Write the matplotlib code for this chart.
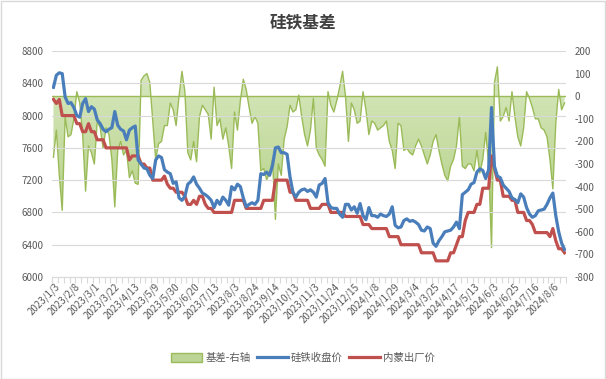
import numpy as np
import matplotlib
matplotlib.use('Agg')
import matplotlib.pyplot as plt
from matplotlib.colors import LinearSegmentedColormap
from matplotlib.patches import Patch, Rectangle
from matplotlib.lines import Line2D
from matplotlib.ticker import FixedLocator

plt.rcParams['font.family'] = ['Noto Sans CJK SC', 'DejaVu Sans']
plt.rcParams['axes.unicode_minus'] = False

# x tick labels (every ~7th point)
date_labels = ['2023/1/3', '2023/2/8', '2023/3/1', '2023/3/22', '2023/4/13', '2023/5/9',
               '2023/5/30', '2023/6/20', '2023/7/13', '2023/8/3', '2023/8/24', '2023/9/14',
               '2023/10/13', '2023/11/3', '2023/11/24', '2023/12/15', '2024/1/8', '2024/1/29',
               '2024/3/4', '2024/3/25', '2024/4/17', '2024/5/13', '2024/6/3', '2024/6/25',
               '2024/7/16', '2024/8/6']

# 基差 (right axis)
basis = [-270, -150, -350, -505, -90, -180, -170, -100, 20, -30,
         -170, -420, -220, -250, -300, -110, -140, -230, -140, -170,
         -280, -490, -240, -200, -260, -240, -360, -330, -385, -390,
         70, 90, 100, 60, -110, -280, -210, -200, -130, -130,
         -30, -60, -130, 0, 110, 20, -250, -282, -200, -290,
         -90, -40, -60, -80, -190, 40, -130, -100, -190, -140,
         -220, -320, -70, -150, -20, 75, 30, -50, -120, -90,
         -120, -330, -320, -370, -340, -280, -545, -300, -350, -190,
         -135, -40, -70, -60, 5, -90, -170, -220, -150, -10,
         -230, -260, -280, -310, 20, -40, -70, -20, 40, 110,
         0, -200, -30, -60, -120, -110, 20, -60, -170, -110,
         -120, -150, -140, -130, -110, -200, -240, -320, -120, -130,
         -240, -230, -250, -260, -220, -190, -220, -260, -300, -260,
         -200, -170, -240, -300, -350, -375, -310, -280, -220, -90,
         -310, -320, -300, -300, -330, -240, -340, -280, -160, -300,
         -670, 60, 130, -110, -90, -50, -110, 20, -90, -180,
         -220, -140, 20, -10, -50, -100, -100, -140, -150, -180,
         -280, -410, -120, 30, -60, -30]

# 硅铁收盘价
close_price = [8350, 8500, 8530, 8520, 8230, 8150, 8160, 8100, 8000, 7980,
               8150, 8210, 8050, 8110, 8080, 7945, 7900, 7830, 7800, 7830,
               7850, 8050, 7880, 7830, 7810, 7700, 7820, 7850, 7870, 7450,
               7400, 7350, 7340, 7260, 7220, 7450, 7500, 7480, 7330, 7300,
               7280, 7160, 7180, 6980, 6950, 7000, 7150, 7180, 7240, 7150,
               7100, 7040, 7020, 6990, 6950, 6860, 6950, 6900, 6990, 6950,
               6890, 7120, 7080, 7150, 7120, 6980, 6870, 6900, 6920, 6900,
               6950, 7280, 7270, 7300, 7260, 7380, 7600, 7610, 7540, 7540,
               7520, 7240, 7050, 6990, 7050, 7080, 7090, 7060, 7080, 7050,
               6990, 7140, 7160, 7220, 6920, 6860, 6850, 6850, 6780, 6740,
               6900, 6900, 6830, 6870, 6790, 6910, 6760, 6710, 6860, 6760,
               6760, 6740, 6780, 6760, 6750, 6780, 6870, 6640, 6610, 6620,
               6700, 6720, 6690, 6700, 6680, 6650, 6580, 6570, 6620, 6600,
               6420, 6380, 6450, 6500, 6560, 6570, 6580, 6620, 6680, 6600,
               7020, 7050, 7080, 7150, 7170, 7300, 7340, 7320, 7220, 7330,
               8100, 7370, 7250, 7230, 7140, 7100, 7060, 6980, 6960, 6920,
               7030, 6990, 6860, 6780, 6740, 6760, 6820, 6830, 6840, 6900,
               6980, 7040, 6760, 6560, 6420, 6340]

# 内蒙出厂价
factory_price = [8200, 8150, 8200, 8000, 8000, 8000, 8000, 8000, 7900, 7900,
                 7800, 7800, 7900, 7800, 7800, 7700, 7700, 7700, 7600, 7600,
                 7600, 7600, 7600, 7600, 7600, 7600, 7450, 7500, 7500, 7500,
                 7400, 7400, 7350, 7350, 7200, 7200, 7200, 7200, 7250, 7150,
                 7100, 7100, 7050, 7050, 7050, 7000, 6900, 6900, 6950, 6900,
                 7000, 7000, 6900, 6850, 6850, 6800, 6800, 6800, 6800, 6800,
                 6800, 6800, 6950, 6950, 6950, 6950, 6850, 6850, 6850, 6850,
                 6850, 6850, 6950, 6950, 6950, 6950, 7200, 7200, 7200, 7200,
                 7200, 7050, 7050, 6950, 6950, 6950, 6950, 6950, 6850, 6850,
                 6850, 6850, 6900, 6900, 6900, 6800, 6800, 6800, 6800, 6800,
                 6750, 6750, 6750, 6750, 6750, 6750, 6650, 6650, 6650, 6600,
                 6600, 6600, 6600, 6600, 6600, 6500, 6500, 6500, 6500, 6400,
                 6400, 6400, 6400, 6400, 6400, 6400, 6300, 6300, 6300, 6300,
                 6300, 6200, 6200, 6200, 6200, 6200, 6300, 6300, 6400, 6500,
                 6500, 6700, 6800, 6800, 6800, 6900, 6900, 7100, 7100, 7100,
                 7500, 7350, 7200, 7200, 7000, 7000, 7000, 6950, 6950, 6800,
                 6800, 6800, 6700, 6700, 6650, 6550, 6550, 6550, 6550, 6550,
                 6500, 6600, 6450, 6350, 6350, 6300]

x = np.arange(len(basis))
label_pos = np.arange(len(date_labels)) * 6.84 + 0.4

GREEN = '#9bbb59'
BLUE = '#4a7ebb'
RED = '#c0504d'
TXT = '#595959'
GRID = '#d9d9d9'

fig = plt.figure(figsize=(6.06, 3.79), dpi=100)
ax = fig.add_axes([52/606, 1-277/379, 514/606, 226/379])
ax2 = ax.twinx()
ax.set_zorder(2)
ax2.set_zorder(1)
ax.patch.set_visible(False)

# basis area with vertical gradient
poly = ax2.fill_between(x, basis, 0, facecolor='none', edgecolor='none')
cmap = LinearSegmentedColormap.from_list('g', ['#9dc265', '#c2da9c', '#dbeac5'])
grad = np.linspace(0, 1, 256).reshape(-1, 1)
im = ax2.imshow(grad, extent=[-0.5, len(x)-0.5, -800, 200], origin='lower',
                aspect='auto', cmap=cmap, zorder=1)
im.set_clip_path(poly.get_paths()[0], transform=ax2.transData)
ax2.plot(x, basis, color=GREEN, lw=1.0, zorder=2)
ax2.axhline(0, color=GREEN, lw=1.0, zorder=2)
ax2.set_ylim(-800, 200)
ax2.set_yticks(np.arange(-800, 201, 100))

# prices on left axis
ax.plot(x, close_price, color=BLUE, lw=2.3, zorder=4, solid_joinstyle='round')
ax.plot(x, factory_price, color=RED, lw=2.3, zorder=3, solid_joinstyle='round')
ax.set_ylim(6000, 8800)
ax.set_yticks(np.arange(6000, 8801, 400))
ax.set_xlim(-0.5, len(x) - 0.5)
ax.grid(axis='y', color=GRID, lw=0.8, zorder=0)

ax.set_xticks(label_pos)
ax.set_xticklabels(date_labels, rotation=45, ha='right', va='top',
                   rotation_mode='anchor', fontsize=7, color=TXT)
ax.xaxis.set_minor_locator(FixedLocator(np.arange(-0.5, len(x), 2)))
ax.tick_params(axis='x', which='major', length=0, pad=3)
ax.tick_params(axis='x', which='minor', length=4, color=GRID, width=0.8)
ax.tick_params(axis='y', length=0, labelsize=7, labelcolor=TXT, pad=6)
ax2.tick_params(axis='y', length=0, labelsize=7, labelcolor=TXT, pad=6)

for a in (ax, ax2):
    for s in ('top', 'left', 'right'):
        a.spines[s].set_visible(False)
    a.spines['bottom'].set_color(GRID)
ax2.spines['bottom'].set_visible(False)

fig.text(0.5, 1 - 22/379, '硅铁基差', ha='center', va='center',
         fontsize=12, fontweight='bold', color='#404040')

handles = [Patch(facecolor='#bcd597', edgecolor=GREEN, lw=1.0),
           Line2D([0], [0], color=BLUE, lw=2.3),
           Line2D([0], [0], color=RED, lw=2.3)]
fig.legend(handles, ['基差-右轴', '硅铁收盘价', '内蒙出厂价'], loc='center',
           bbox_to_anchor=(0.5, 1 - 358/379), ncol=3, frameon=False,
           fontsize=7.5, handlelength=3.0, handleheight=0.9, columnspacing=0.6,
           handletextpad=0.3, labelcolor=TXT)

fig.add_artist(Rectangle((0.001, 0.001), 0.997, 0.997, transform=fig.transFigure,
                         fill=False, edgecolor=GRID, lw=1.0))

fig.savefig('out.png', dpi=100)
